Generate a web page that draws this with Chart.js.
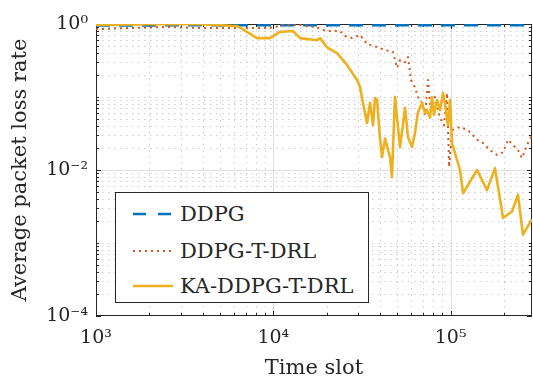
<!DOCTYPE html>
<html><head><meta charset="utf-8">
<script src="https://cdn.jsdelivr.net/npm/chart.js@4.4.1/dist/chart.umd.min.js"></script>
<style>
html,body{margin:0;padding:0;background:#fff;}
#wrap{position:relative;width:533px;height:377px;}
#c{display:block;}
#legend{position:absolute;left:115px;top:192px;width:254px;height:111px;background:#fff;border:1px solid #262626;box-sizing:border-box;font-family:'DejaVu Serif';font-size:21px;color:#262626;}
.row{position:absolute;left:0;height:30px;display:flex;align-items:center;white-space:nowrap;}
.row svg{margin-left:17px;margin-right:7px;}
</style></head>
<body><div id="wrap"><canvas id="c" width="533" height="377" style="width:533px;height:377px"></canvas><div id="legend"></div></div>
<script>
// ---- data ----
const seriesNames = ['DDPG', 'DDPG-T-DRL', 'KA-DDPG-T-DRL'];

const ddpgT = [1000, 3000, 10000, 30000, 100000, 287800];
const ddpgV = [0.955, 0.96, 0.96, 0.96, 0.96, 0.96];

const tdrlT = [1000, 1555, 2515, 3861, 6238, 9575, 11340, 14710, 17180, 20090, 23780, 25380, 27780, 30840, 33770, 38460, 42690, 47310, 49890, 51860, 55340, 57530, 59790, 62960, 65450, 68960, 71780, 74580, 77450, 81650, 87100, 91800, 95500, 98100, 101800, 113000, 125400, 140900, 152300, 166800, 182700, 197600, 210700, 225000, 239900, 252700, 269600, 283800, 287800];
const tdrlV = [0.85, 0.88, 0.91, 0.88, 0.88, 0.88, 0.97, 0.97, 0.91, 0.80, 0.80, 0.685, 0.643, 0.707, 0.532, 0.484, 0.44, 0.413, 0.25, 0.32, 0.30, 0.353, 0.171, 0.137, 0.10, 0.083, 0.057, 0.171, 0.062, 0.10, 0.052, 0.041, 0.113, 0.011, 0.035, 0.039, 0.035, 0.026, 0.0234, 0.0187, 0.0161, 0.0175, 0.026, 0.022, 0.0187, 0.0146, 0.022, 0.028, 0.026];

const kaT = [1000, 2017, 3861, 6238, 7108, 8090, 9575, 10900, 12920, 14150, 17630, 18340, 20090, 22870, 26050, 29660, 30840, 32060, 33770, 35110, 36510, 37490, 38460, 39990, 41040, 42690, 44390, 45530, 46700, 48530, 51860, 55340, 57530, 60570, 62960, 65450, 68960, 71780, 73620, 76560, 78520, 80540, 83750, 87100, 90580, 92900, 96600, 99300, 101800, 113000, 117500, 140900, 160400, 177900, 197600, 222000, 239900, 255900, 280500, 287800];
const kaV = [0.97, 0.99, 0.99, 0.94, 0.78, 0.64, 0.64, 0.78, 0.80, 0.64, 0.60, 0.64, 0.48, 0.40, 0.275, 0.171, 0.137, 0.083, 0.044, 0.083, 0.041, 0.097, 0.091, 0.027, 0.0151, 0.027, 0.0187, 0.0151, 0.008, 0.10, 0.0206, 0.071, 0.028, 0.0206, 0.032, 0.062, 0.083, 0.060, 0.066, 0.052, 0.10, 0.057, 0.091, 0.066, 0.113, 0.083, 0.041, 0.091, 0.0234, 0.010, 0.0048, 0.010, 0.0053, 0.0106, 0.0022, 0.0027, 0.0046, 0.0013, 0.0019, 0.0021];

const xRange = [1000, 287800];
const yRange = [1e-4, 1];
const xTickValues = [1e3, 1e4, 1e5];
const xTickLabels = ['10³', '10⁴', '10⁵'];
const yTickValues = [1e-4, 1e-2, 1];
const yTickLabels = ['10⁻⁴', '10⁻²', '10⁰'];

// ---- helpers ----
const pts = (t, v) => t.map((x, i) => ({x, y: v[i]}));
const near = (a, b) => Math.abs(Math.log10(a) - Math.log10(b)) < 1e-6;
const labelFor = (vals, labels) => v => { const i = vals.findIndex(u => near(u, v)); return i >= 0 ? labels[i] : ''; };
const isNice = v => { const p = Math.pow(10, Math.floor(Math.log10(v) + 1e-9)); const s = v / p; return Math.abs(s - Math.round(s)) < 1e-6; };

const AX = '#262626';
const FONT = 'DejaVu Serif';

const frame = {
  id: 'frame',
  beforeDatasetsDraw(chart) {
    const {ctx, chartArea: a, scales: {x, y}} = chart;
    ctx.save();
    ctx.lineWidth = 1;
    x.ticks.forEach(t => {
      if (!isNice(t.value)) return;
      const px = Math.round(x.getPixelForValue(t.value)) + 0.5;
      if (px <= a.left + 1 || px >= a.right - 1) return;
      const major = xTickValues.some(u => near(u, t.value));
      ctx.strokeStyle = major ? '#e0e0e0' : '#cdcdcd';
      ctx.setLineDash(major ? [] : [1.5, 4.5]);
      ctx.beginPath(); ctx.moveTo(px, a.top); ctx.lineTo(px, a.bottom); ctx.stroke();
    });
    y.ticks.forEach(t => {
      if (!isNice(t.value)) return;
      const py = Math.round(y.getPixelForValue(t.value)) + 0.5;
      if (py <= a.top + 1 || py >= a.bottom - 1) return;
      const major = yTickValues.some(u => near(u, t.value));
      ctx.strokeStyle = major ? '#e0e0e0' : '#cdcdcd';
      ctx.setLineDash(major ? [] : [1.5, 4.5]);
      ctx.beginPath(); ctx.moveTo(a.left, py); ctx.lineTo(a.right, py); ctx.stroke();
    });
    // axes box and inward ticks
    ctx.strokeStyle = AX; ctx.lineWidth = 1; ctx.setLineDash([]);
    ctx.strokeRect(a.left + 0.5, a.top + 0.5, a.right - a.left - 1, a.bottom - a.top - 1);
    ctx.beginPath();
    x.ticks.forEach(t => {
      if (!isNice(t.value)) return;
      const px = Math.round(x.getPixelForValue(t.value)) + 0.5;
      const len = xTickValues.some(u => near(u, t.value)) ? 5 : 3;
      ctx.moveTo(px, a.bottom); ctx.lineTo(px, a.bottom - len);
      ctx.moveTo(px, a.top); ctx.lineTo(px, a.top + len);
    });
    y.ticks.forEach(t => {
      if (!isNice(t.value)) return;
      const py = Math.round(y.getPixelForValue(t.value)) + 0.5;
      const len = yTickValues.some(u => near(u, t.value)) ? 5 : 3;
      ctx.moveTo(a.left, py); ctx.lineTo(a.left + len, py);
      ctx.moveTo(a.right, py); ctx.lineTo(a.right - len, py);
    });
    ctx.stroke();
    ctx.restore();
  }
};

const styles = [
  {color: '#0072BD', dash: [14, 9], width: 2.6, order: 2},
  {color: '#D95319', dash: [2, 4], width: 2, order: 1},
  {color: '#EDB120', dash: [], width: 2.6, order: 0}
];
const seriesData = [pts(ddpgT, ddpgV), pts(tdrlT, tdrlV), pts(kaT, kaV)];

const chart = new Chart(document.getElementById('c'), {
  type: 'line',
  data: {
    datasets: seriesNames.map((n, i) => ({
      label: n, data: seriesData[i],
      borderColor: styles[i].color, backgroundColor: styles[i].color,
      borderDash: styles[i].dash, borderWidth: styles[i].width,
      pointRadius: 0, tension: 0, fill: false, order: styles[i].order,
      borderCapStyle: 'butt', borderJoinStyle: 'round'
    }))
  },
  options: {
    responsive: false, animation: false, devicePixelRatio: 1,
    layout: {padding: {top: 24, right: 1, left: 0, bottom: 0}},
    plugins: {legend: {display: false}, tooltip: {enabled: false}},
    scales: {
      x: {
        type: 'logarithmic', min: xRange[0], max: xRange[1],
        grid: {display: false, drawTicks: false}, border: {display: false},
        ticks: {autoSkip: false, maxRotation: 0, minRotation: 0, padding: 11, color: AX,
          font: {family: FONT, size: 19}, callback: labelFor(xTickValues, xTickLabels)},
        title: {display: true, text: 'Time slot', color: AX, font: {family: FONT, size: 21, lineHeight: 0.8}, padding: {top: 0, bottom: 0}},
        afterFit: s => { s.height = 61; s.paddingLeft = 0; s.paddingRight = 0; }
      },
      y: {
        type: 'logarithmic', min: yRange[0], max: yRange[1],
        grid: {display: false, drawTicks: false}, border: {display: false},
        ticks: {autoSkip: false, padding: 8, color: AX,
          font: {family: FONT, size: 19}, callback: labelFor(yTickValues, yTickLabels)},
        title: {display: true, text: 'Average packet loss rate', color: AX, font: {family: FONT, size: 21, lineHeight: 1.2}, padding: {top: 8, bottom: 0}},
        afterFit: s => { s.width = 96; s.paddingTop = 0; s.paddingBottom = 0; }
      }
    }
  },
  plugins: [frame]
});

// legend built from the chart's datasets
const lg = document.getElementById('legend');
const rowTops = [6, 43, 78];
chart.data.datasets.forEach((ds, i) => {
  const row = document.createElement('div');
  row.className = 'row';
  row.style.top = rowTops[i] + 'px';
  const dash = ds.borderDash && ds.borderDash.length ? ds.borderDash.join(' ') : 'none';
  row.innerHTML = '<svg width="40" height="6"><line x1="0" y1="3" x2="40" y2="3" stroke="' + ds.borderColor +
    '" stroke-width="' + ds.borderWidth + '" stroke-dasharray="' + (i === 0 ? '13 12' : dash) + '"/></svg><span>' + ds.label + '</span>';
  lg.appendChild(row);
});
</script>
</body></html>
